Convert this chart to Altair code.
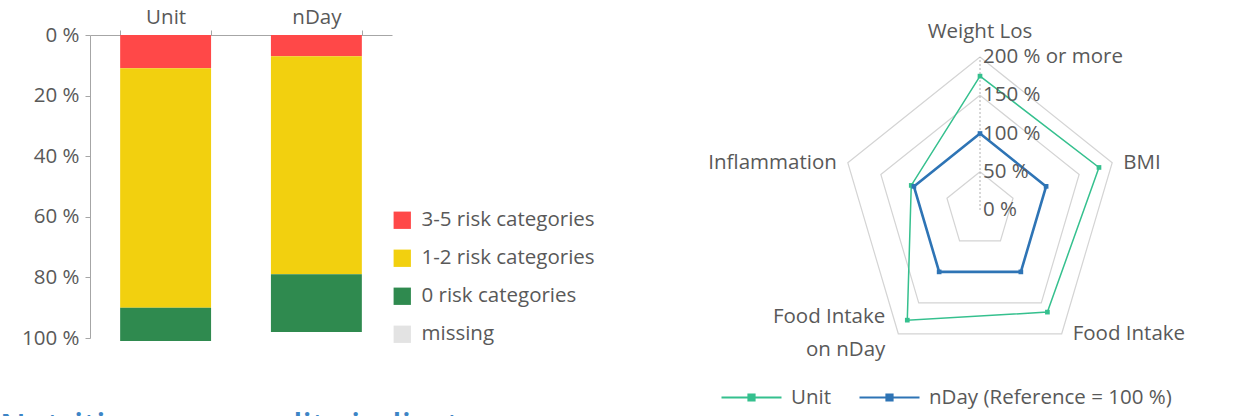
import altair as alt
import pandas as pd

# ---- stacked bars: share of residents by number of risk categories ----
groups = ["Unit", "nDay"]
risk_levels = ["3-5 risk categories", "1-2 risk categories", "0 risk categories", "missing"]
risk_colors = ["#ff4848", "#f2d00f", "#2f8a4f", "#e3e3e3"]
unit_shares = [11, 79, 11, 0]
nday_shares = [7, 72, 19, 0]

# ---- radar: unit relative to nDay reference ----
radar_axes = ["Weight Los", "BMI", "Food Intake", "Food Intake\non nDay", "Inflammation"]
series_names = ["Unit", "nDay (Reference = 100 %)"]
series_colors = ["#35c08e", "#2e74b5"]
unit_pct = [175, 180, 165, 178, 104]
nday_pct = [100, 100, 100, 100, 100]
ring_levels = [50, 100, 150, 200]
ring_ticks = [0, 50, 100, 150, 200]
ring_tick_labels = ["0 %", "50 %", "100 %", "150 %", "200 % or more"]

title_text = "Nutrition care quality indicators"

FONT = "Open Sans"
FS = 20.5
TEXT_GREY = "#595959"
AXIS_GREY = "#a6a6a6"

bar_rows = []
for g, vals in zip(groups, [unit_shares, nday_shares]):
    for i, (r, v) in enumerate(zip(risk_levels, vals)):
        bar_rows.append({"group": g, "risk": r, "order": i, "share": v})
bar_df = pd.DataFrame(bar_rows)

bars = alt.Chart(bar_df).mark_bar().encode(
    x=alt.X(
        "group:N",
        scale=alt.Scale(domain=groups, range=[0, 302], paddingInner=0.397, paddingOuter=0.2),
        axis=alt.Axis(
            orient="top", title=None, tickBand="extent", labelAngle=0,
            labelFontSize=FS, labelColor=TEXT_GREY, labelPadding=3,
            tickSize=5, tickColor=AXIS_GREY, domainColor=AXIS_GREY, grid=False,
        ),
    ),
    y=alt.Y(
        "share:Q",
        stack="zero",
        scale=alt.Scale(domain=[0, 100], range=[0, 303], nice=False),
        axis=alt.Axis(
            orient="left", title=None, values=[0, 20, 40, 60, 80, 100],
            labelExpr="datum.value + ' %'", labelFontSize=FS, labelColor=TEXT_GREY,
            labelPadding=6, tickSize=5, tickColor=AXIS_GREY, domainColor=AXIS_GREY, grid=False,
        ),
    ),
    color=alt.Color(
        "risk:N",
        scale=alt.Scale(domain=risk_levels, range=risk_colors),
        legend=alt.Legend(
            orient="none", legendX=302, legendY=175, title=None,
            symbolType="square", symbolSize=300, symbolStrokeWidth=0,
            labelFontSize=FS, labelColor=TEXT_GREY, labelOffset=9, rowPadding=17,
            labelLimit=400,
        ),
    ),
    order=alt.Order("order:Q", sort="ascending"),
)

# radar scales: +/-200 % maps onto the pentagon's extent
rx = alt.Scale(domain=[-200, 200], range=[751, 1029], nice=False, zero=False)
ry = alt.Scale(domain=[-200, 200], range=[328, 22], nice=False, zero=False)


def to_xy(chart, rfield):
    return chart.transform_calculate(
        theta="2 * PI * datum.idx / 5"
    ).transform_calculate(
        px=f"datum.{rfield} * sin(datum.theta)",
        py=f"datum.{rfield} * cos(datum.theta)",
    )


n_axes = len(radar_axes)

grid_rows = []
for level in ring_levels:
    for k in range(n_axes + 1):
        grid_rows.append({"ring": level, "k": k, "idx": k % n_axes, "r": level})
grid_df = pd.DataFrame(grid_rows)

grid = to_xy(alt.Chart(grid_df), "r").mark_line(color="#d4d4d4", strokeWidth=1.2).encode(
    x=alt.X("px:Q", scale=rx, axis=None),
    y=alt.Y("py:Q", scale=ry, axis=None),
    detail="ring:N",
    order="k:Q",
)

spoke = alt.Chart(pd.DataFrame({"r0": [ring_ticks[0]], "r1": [ring_levels[-1]]})).mark_rule(
    color="#b0b0b0", strokeDash=[2, 2], strokeWidth=1
).encode(
    x=alt.X("r0:Q", scale=rx, axis=None),
    y=alt.Y("r0:Q", scale=ry, axis=None),
    y2="r1:Q",
)

series_rows = []
for name, vals in zip(series_names, [unit_pct, nday_pct]):
    for k in range(n_axes + 1):
        series_rows.append({"series": name, "k": k, "idx": k % n_axes, "value": vals[k % n_axes]})
series_df = pd.DataFrame(series_rows)

series_color = alt.Scale(domain=series_names, range=series_colors)

lines = to_xy(alt.Chart(series_df), "value").mark_line().encode(
    x=alt.X("px:Q", scale=rx, axis=None),
    y=alt.Y("py:Q", scale=ry, axis=None),
    color=alt.Color(
        "series:N", scale=series_color,
        legend=alt.Legend(
            orient="none", direction="horizontal", legendX=630, legendY=331, title=None,
            symbolType="M-1,0H1M-0.1,-0.1H0.1V0.1H-0.1Z", symbolSize=3600,
            symbolStrokeWidth=2.2, labelFontSize=FS, labelColor=TEXT_GREY,
            labelOffset=8, columnPadding=24, labelLimit=400,
        ),
    ),
    strokeWidth=alt.StrokeWidth("series:N", scale=alt.Scale(domain=series_names, range=[1.5, 2.6]), legend=None),
    detail="series:N",
    order="k:Q",
)

points = to_xy(alt.Chart(series_df[series_df["k"] < n_axes]), "value").mark_point(
    filled=True, shape="square", size=22, opacity=1
).encode(
    x=alt.X("px:Q", scale=rx, axis=None),
    y=alt.Y("py:Q", scale=ry, axis=None),
    color=alt.Color("series:N", scale=series_color, legend=None),
)

tick_df = pd.DataFrame({"r": ring_ticks, "label": ring_tick_labels, "zero": [0] * len(ring_ticks)})
tick_text = alt.Chart(tick_df).mark_text(
    align="left", baseline="middle", dx=3, fontSize=FS, color=TEXT_GREY
).encode(
    x=alt.X("zero:Q", scale=rx, axis=None),
    y=alt.Y("r:Q", scale=ry, axis=None),
    text="label:N",
)

cat_df = pd.DataFrame({"axis": radar_axes, "idx": list(range(n_axes)), "r": [ring_levels[-1]] * n_axes})
cat_base = to_xy(alt.Chart(cat_df), "r").encode(
    x=alt.X("px:Q", scale=rx, axis=None),
    y=alt.Y("py:Q", scale=ry, axis=None),
    text="axis:N",
)
multi_line = "indexof(datum.axis, '\\n') >= 0"
cat_top = cat_base.transform_filter("datum.idx == 0").mark_text(
    align="center", baseline="middle", dy=-25, fontSize=FS, color=TEXT_GREY
)
cat_right = cat_base.transform_filter("sin(datum.theta) > 0.1").mark_text(
    align="left", baseline="middle", dx=11, fontSize=FS, color=TEXT_GREY
)
cat_left = cat_base.transform_filter(
    f"sin(datum.theta) < -0.1 && !({multi_line})"
).mark_text(align="right", baseline="middle", dx=-11, fontSize=FS, color=TEXT_GREY)
cat_left_wrapped = cat_base.transform_filter(
    f"sin(datum.theta) < -0.1 && {multi_line}"
).mark_text(
    align="right", baseline="middle", dx=-13, dy=-17, fontSize=FS, color=TEXT_GREY,
    lineBreak="\n", lineHeight=33,
)

radar = alt.layer(grid, spoke, lines, points, tick_text, cat_top, cat_right, cat_left, cat_left_wrapped)

caption = alt.Chart(pd.DataFrame({"t": [title_text]})).mark_text(
    align="left", baseline="top", fontSize=33, fontWeight=600, color="#3d85c6"
).encode(x=alt.value(-90), y=alt.value(376), text="t:N")

chart = alt.layer(alt.layer(bars), radar, caption).resolve_scale(
    x="independent", y="independent", color="independent"
).properties(
    width=1157, height=381,
    autosize=alt.AutoSizeParams(type="none"),
    padding={"left": 90, "top": 35, "right": 0, "bottom": 0},
    background="white",
).configure(font=FONT).configure_view(stroke=None)

chart.save("out.html", embed_options={"renderer": "svg", "actions": False})
